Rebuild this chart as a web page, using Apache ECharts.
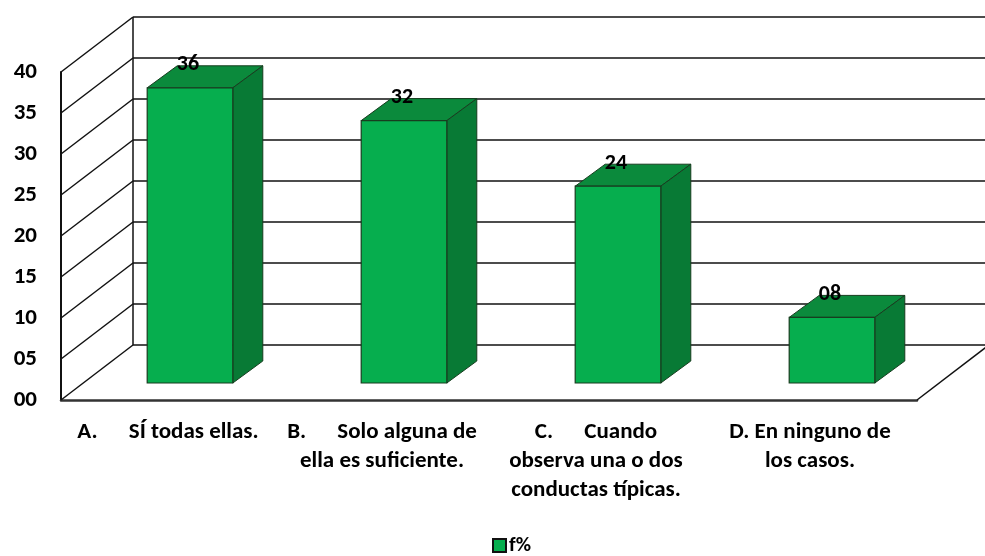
<!DOCTYPE html>
<html lang="es">
<head>
    <meta charset="UTF-8">
    <title>f%</title>
    <script src="https://cdn.jsdelivr.net/npm/echarts@6/dist/echarts.min.js"></script>
</head>
<body style="margin:0">
<div id="chart" style="width:985px;height:556px"></div>
<script>
    // datos
    var categorias = [
        'A.      SÍ todas ellas.',
        'B.      Solo alguna de\nella es suficiente.',
        'C.      Cuando\nobserva una o dos\nconductas típicas.',
        'D. En ninguno de\nlos casos.'
    ];
    var valores = [36, 32, 24, 8];
    var marcas = [0, 5, 10, 15, 20, 25, 30, 35, 40];
    var serieNombre = 'f%';

    var FUENTE = 'Carlito, Lato, "Open Sans", sans-serif';
    // profundidad del "3D"
    var DX = 72, DY = -55;      // fondo de la caja
    var SX = 22, SY = -17;      // plano frontal de las barras
    var BX = 30, BY = -22;      // grosor de la barra

    function dos(v) { return (v < 10 ? '0' : '') + v; }

    var mychart = echarts.init(document.getElementById('chart'));

    function paredes(params, api) {
        var cs = params.coordSys;
        var v = api.value(1);
        var y = api.coord([0, v])[1];
        var x0 = cs.x, x1 = cs.x + cs.width;
        var estilo = {stroke: '#111', lineWidth: 1.5, fill: null};
        var hijos = [
            {type: 'line', shape: {x1: x0 + DX, y1: y + DY, x2: x1 + DX, y2: y + DY}, style: estilo},
            {type: 'line', shape: {x1: x0, y1: y, x2: x0 + DX, y2: y + DY}, style: estilo}
        ];
        if (v === 0) {
            var yTop = api.coord([0, marcas[marcas.length - 1]])[1];
            hijos.push({type: 'line', shape: {x1: x1, y1: y, x2: x1 + DX, y2: y + DY}, style: estilo});
            hijos.push({type: 'line', shape: {x1: x0 + DX, y1: y + DY, x2: x0 + DX, y2: yTop + DY}, style: estilo});
        }
        return {type: 'group', children: hijos};
    }

    function barras(params, api) {
        var i = api.value(0), v = api.value(1);
        var p = api.coord([i, v]);
        var b = api.coord([i, 0]);
        var bw = api.size([1, 0])[0] * 0.4;
        var xl = p[0] - bw / 2 + SX, xr = p[0] + bw / 2 + SX;
        var yt = p[1] + SY, yb = b[1] + SY;
        var borde = '#173d1f';
        return {
            type: 'group',
            children: [
                {type: 'polygon', shape: {points: [[xl, yt], [xr, yt], [xr + BX, yt + BY], [xl + BX, yt + BY]]},
                    style: {fill: '#0b8a3c', stroke: borde, lineWidth: 1}},
                {type: 'polygon', shape: {points: [[xr, yt], [xr + BX, yt + BY], [xr + BX, yb + BY], [xr, yb]]},
                    style: {fill: '#087a35', stroke: borde, lineWidth: 1}},
                {type: 'rect', shape: {x: xl, y: yt, width: xr - xl, height: yb - yt},
                    style: {fill: '#06ae4e', stroke: borde, lineWidth: 1.2}},
                {type: 'text', x: (xl + xr) / 2 - 2, y: yt - 23,
                    style: {text: dos(v), fill: '#000', font: 'bold 22px ' + FUENTE, align: 'center', verticalAlign: 'middle'}}
            ]
        };
    }

    var option = {
        animation: false,
        legend: {
            data: [serieNombre],
            left: 487,
            top: 530,
            icon: 'rect',
            itemWidth: 13,
            itemHeight: 13,
            itemGap: 4,
            textStyle: {fontFamily: FUENTE, fontWeight: 'bold', fontSize: 21, color: '#000', padding: [0, 0, 0, -2]}
        },
        grid: {left: 61, right: 68, top: 72, bottom: 156},
        xAxis: {
            type: 'category',
            data: categorias,
            axisLine: {show: true, lineStyle: {color: '#333', width: 2.5}},
            axisTick: {show: false},
            axisLabel: {
                interval: 0,
                margin: 18,
                color: '#000',
                fontFamily: FUENTE,
                fontWeight: 'bold',
                fontSize: 23,
                lineHeight: 29
            }
        },
        yAxis: {
            type: 'value',
            min: 0,
            max: 40,
            interval: 5,
            axisLine: {show: true, lineStyle: {color: '#111', width: 2}},
            axisTick: {show: false},
            splitLine: {show: false},
            axisLabel: {
                margin: 24,
                color: '#000',
                fontFamily: FUENTE,
                fontWeight: 'bold',
                fontSize: 23,
                formatter: function (v) { return dos(v); }
            }
        },
        series: [
            {
                type: 'custom',
                silent: true,
                clip: false,
                z: 1,
                renderItem: paredes,
                data: marcas.map(function (t) { return [0, t]; })
            },
            {
                name: serieNombre,
                type: 'custom',
                clip: false,
                z: 5,
                itemStyle: {color: '#06ae4e', borderColor: '#111', borderWidth: 1},
                renderItem: barras,
                data: valores.map(function (v, i) { return [i, v]; })
            }
        ]
    };

    mychart.setOption(option, true);
</script>
</body>
</html>
